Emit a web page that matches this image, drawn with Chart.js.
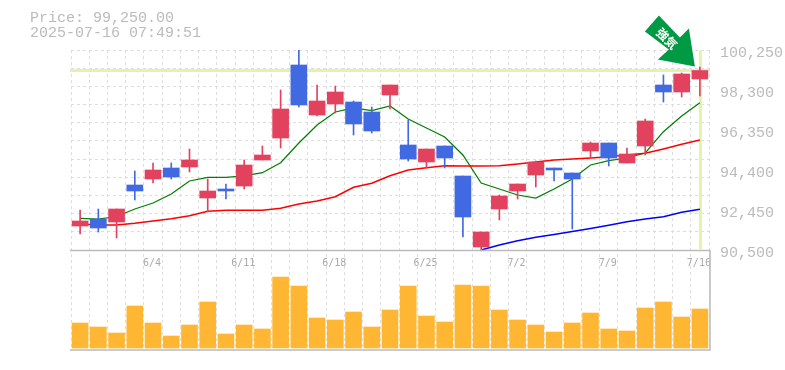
<!DOCTYPE html>
<html>
<head>
<meta charset="utf-8">
<title>Price chart</title>
<script src="https://cdn.jsdelivr.net/npm/chart.js@4/dist/chart.umd.min.js"></script>
<style>
  html, body { margin: 0; padding: 0; background: #fff; }
  #wrap { position: relative; width: 785px; height: 370px; overflow: hidden; }
  #head { position: absolute; left: 30px; top: 11px; font: 15px/15px "Liberation Mono", monospace; color: #bbb; white-space: pre; }
  canvas { position: absolute; left: 0; top: 0; }
</style>
</head>
<body>
<div id="wrap">
  <canvas id="chart" width="785" height="370"></canvas>
  <div id="head">Price: 99,250.00
2025-07-16 07:49:51</div>
</div>
<script>
const dates = ['5/29','5/30','6/2','6/3','6/4','6/5','6/6','6/9','6/10','6/11','6/12','6/13','6/16','6/17','6/18','6/19','6/20','6/23','6/24','6/25','6/26','6/27','6/30','7/1','7/2','7/3','7/4','7/7','7/8','7/9','7/10','7/11','7/14','7/15','7/16'];
const dateTicks = ['6/4','6/11','6/18','6/25','7/2','7/9','7/16'];
const priceTicks = [100250, 98300, 96350, 94400, 92450, 90500];

const open  = [91670,92011,91865,93669,93961,94498,94546,93035,93474,93620,94888,95960,99519,97081,97618,97715,97228,98056,95619,94790,95570,94108,90646,92499,93376,94156,94498,94254,95326,95716,94741,95570,98544,98203,98836];
const high  = [92450,92499,92499,94351,94741,94741,95424,93961,93718,94888,95570,98300,100250,98544,98495,97764,97471,98544,96838,95424,95570,94108,91378,93181,93718,94839,94498,94254,95765,95716,95473,96886,99031,99129,99421];
const low   = [91280,91377,91085,92938,93766,93961,94303,92352,92986,93474,94888,95472,97471,97033,97179,96106,96204,97374,94839,94498,94498,91134,90451,91963,92986,93571,93864,91524,94985,94595,94741,95131,97715,97959,98008];
const close = [91914,91572,92499,93376,94400,94059,94888,93376,93376,94644,95131,97374,97569,97764,98203,96643,96301,98544,94936,95424,94985,92109,91378,93133,93718,94790,94400,93961,95716,94985,95180,96789,98203,99080,99250];

const maShort = [92045,92011,92133,92499,92791,93230,93864,94044,94044,94108,94268,94756,95716,96594,97228,97423,97291,97520,96886,96448,96009,95131,93766,93474,93181,93035,93474,93961,94644,94853,94985,95229,96267,97033,97681];
const maMid   = [91768,91719,91719,91802,91914,92026,92172,92386,92435,92435,92435,92533,92743,92889,93098,93556,93752,94122,94400,94512,94609,94595,94595,94609,94692,94790,94888,94936,94985,95048,95131,95214,95424,95653,95862];
const maLong  = [null,null,null,null,null,null,null,null,null,null,null,null,null,null,null,null,null,null,null,null,null,null,90500,90744,90953,91119,91255,91400,91548,91709,91880,92011,92124,92338,92484];
const volume  = [25,21,15,42,25,12,23,46,14,23,19,71,62,30,28,36,21,38,62,32,26,63,62,38,28,23,16,25,35,19,17,40,46,31,39];

const lastPrice = 99250;
const priceTop = 100250;
const priceBottom = 90500;
const gridSteps = 11;

const RED = '#e3425f';
const BLUE = '#4169e1';
const GRID = '#dddddd';
const TEXT = '#bbbbbb';
const PALE = '#e2f4ab';
const FONT = '"Liberation Mono", monospace';

const candleColors = open.map((o, i) => close[i] >= o ? RED : BLUE);

// price panel takes the upper 2/3 of the plot, volume the lower 1/3
const priceMin = priceTop - (priceTop - priceBottom) * 1.5;
const labelShift = 130;

// pale marker lines for the latest price and date, behind the candles
const markerLines = {
  id: 'markerLines',
  beforeDatasetsDraw(chart) {
    const { ctx, chartArea, scales } = chart;
    const y = scales.yPrice.getPixelForValue(lastPrice);
    const x = scales.x.getPixelForValue(dates.length - 1);
    ctx.save();
    ctx.strokeStyle = PALE;
    ctx.lineWidth = 3;
    ctx.beginPath();
    ctx.moveTo(chartArea.left - 1, y);
    ctx.lineTo(chartArea.right, y);
    ctx.moveTo(x + 0.5, chartArea.top);
    ctx.lineTo(x + 0.5, scales.yPrice.getPixelForValue(priceBottom) - 1);
    ctx.stroke();
    ctx.restore();
  }
};

const frame = {
  id: 'frame',
  afterDatasetsDraw(chart) {
    const { ctx, chartArea, scales } = chart;
    const mid = scales.yPrice.getPixelForValue(priceBottom);
    ctx.save();
    ctx.strokeStyle = TEXT;
    ctx.lineWidth = 1.5;
    ctx.beginPath();
    ctx.moveTo(chartArea.left - 1, mid + 0.5);
    ctx.lineTo(chartArea.right + 1, mid + 0.5);
    ctx.moveTo(chartArea.left - 1, chartArea.bottom);
    ctx.lineTo(chartArea.right + 1, chartArea.bottom);
    ctx.lineTo(chartArea.right + 1, mid);
    ctx.stroke();
    ctx.restore();
  }
};

// green arrow pointing at the last candle
const signalArrow = {
  id: 'signalArrow',
  afterDraw(chart) {
    const { ctx, scales } = chart;
    const tipX = scales.x.getPixelForValue(dates.length - 1) - 5;
    const tipY = scales.yPrice.getPixelForValue(lastPrice) - 4;
    const shape = [[0,0],[-37,-7],[-26,-17],[-50,-35],[-36,-51],[-15,-29],[-6,-38]];
    ctx.save();
    ctx.fillStyle = '#009944';
    ctx.beginPath();
    shape.forEach((p, i) => {
      if (i === 0) ctx.moveTo(tipX + p[0], tipY + p[1]);
      else ctx.lineTo(tipX + p[0], tipY + p[1]);
    });
    ctx.closePath();
    ctx.fill();
    ctx.translate(tipX - 28, tipY - 28);
    ctx.rotate(Math.PI / 4);
    ctx.fillStyle = '#fff';
    ctx.font = 'bold 12px "Noto Sans CJK JP"';
    ctx.textAlign = 'center';
    ctx.textBaseline = 'middle';
    ctx.fillText('強気', 0, 0);
    ctx.restore();
  }
};

new Chart(document.getElementById('chart'), {
  data: {
    labels: dates,
    datasets: [
      { type: 'bar', label: 'Volume', data: volume, yAxisID: 'yVol', backgroundColor: '#ffb733', barThickness: 16, grouped: false, order: 5 },
      { type: 'line', label: 'MA long', data: maLong, yAxisID: 'yPrice', borderColor: '#0000ff', borderWidth: 1.5, pointRadius: 0, tension: 0, order: 4 },
      { type: 'line', label: 'MA mid', data: maMid, yAxisID: 'yPrice', borderColor: '#ff0000', borderWidth: 1.5, pointRadius: 0, tension: 0, order: 4 },
      { type: 'line', label: 'MA short', data: maShort, yAxisID: 'yPrice', borderColor: '#008000', borderWidth: 1.25, pointRadius: 0, tension: 0, order: 4 },
      { type: 'bar', label: 'Range', data: low.map((l, i) => [l, high[i]]), yAxisID: 'yPrice', backgroundColor: candleColors, barThickness: 1, grouped: false, order: 2 },
      { type: 'bar', label: 'Body', data: open.map((o, i) => [o, close[i]]), yAxisID: 'yPrice', backgroundColor: candleColors, barThickness: 16, grouped: false, order: 1 }
    ]
  },
  options: {
    responsive: false,
    animation: false,
    layout: { padding: { left: 71, top: 50, bottom: 20, right: 0 } },
    plugins: { legend: { display: false }, tooltip: { enabled: false } },
    scales: {
      x: {
        position: { yPrice: priceBottom },
        grid: { color: GRID, drawTicks: false, offset: true },
        border: { display: false, dash: [3, 3] },
        ticks: {
          autoSkip: false,
          maxRotation: 0,
          padding: 7,
          labelOffset: -1,
          color: '#aaaaaa',
          font: { family: '"DejaVu Sans Mono", monospace', size: 10 },
          callback(value) {
            const label = this.getLabelForValue(value);
            return dateTicks.includes(label) ? label : '';
          }
        }
      },
      yPrice: {
        position: 'right',
        min: priceMin,
        max: priceTop,
        grid: { color: GRID, drawTicks: false },
        border: { display: false, dash: [3, 3] },
        ticks: { display: false },
        afterBuildTicks(scale) {
          const step = (priceTop - priceBottom) / gridSteps;
          const list = [];
          for (let i = 0; i <= gridSteps; i++) list.push({ value: priceBottom + step * i });
          scale.ticks = list;
        },
        afterFit(scale) { scale.width = 0; }
      },
      yVol: {
        display: false,
        min: -2,
        max: 298
      },
      yLabel: {
        position: 'right',
        min: priceMin + labelShift,
        max: priceTop + labelShift,
        grid: { display: false, drawTicks: false },
        border: { display: false },
        ticks: {
          padding: 11,
          crossAlign: 'near',
          color: TEXT,
          font: { family: FONT, size: 15 },
          callback(value) { return value.toLocaleString('en-US'); }
        },
        afterBuildTicks(scale) {
          scale.ticks = priceTicks.map(v => ({ value: v }));
        },
        afterFit(scale) { scale.width = 76; }
      }
    }
  },
  plugins: [markerLines, frame, signalArrow]
});
</script>
</body>
</html>
